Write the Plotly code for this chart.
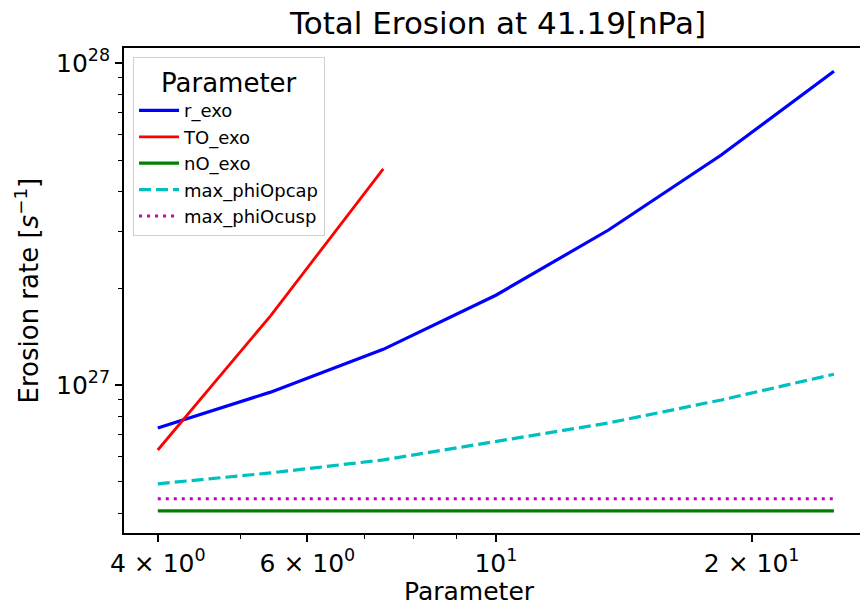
import plotly.graph_objects as go

# Data
x_vals = [4.0, 5.43, 7.37, 10.0, 13.57, 18.42, 25.0]
r_exo = [7.35e26, 9.5e26, 1.29e27, 1.9e27, 3.03e27, 5.18e27, 9.44e27]
TO_exo_x = [4.0, 5.43, 7.37]
TO_exo = [6.28e26, 1.64e27, 4.69e27]
nO_exo = [4.06e26] * 7
max_phiOpcap = [4.93e26, 5.33e26, 5.85e26, 6.66e26, 7.62e26, 8.98e26, 1.08e27]
max_phiOcusp = [4.43e26] * 7

x_tickvals = [4, 6, 10, 20]
x_ticktext = ["4 × 10<sup>0</sup>", "6 × 10<sup>0</sup>", "10<sup>1</sup>", "2 × 10<sup>1</sup>"]
x_minor = [5, 7, 8, 9]
y_tickvals = [1e27, 1e28]
y_ticktext = ["10<sup>27</sup>", "10<sup>28</sup>"]
y_minor = [4e26, 5e26, 6e26, 7e26, 8e26, 9e26, 2e27, 3e27, 4e27, 5e27, 6e27, 7e27, 8e27, 9e27]

FONT = "DejaVu Sans"

fig = go.Figure()
fig.add_trace(go.Scatter(x=x_vals, y=r_exo, mode="lines", name="r_exo",
                         line=dict(color="#0000ff", width=3.2)))
fig.add_trace(go.Scatter(x=TO_exo_x, y=TO_exo, mode="lines", name="TO_exo",
                         line=dict(color="#ff0000", width=2.8)))
fig.add_trace(go.Scatter(x=x_vals, y=nO_exo, mode="lines", name="nO_exo",
                         line=dict(color="#008000", width=3.2)))
fig.add_trace(go.Scatter(x=x_vals, y=max_phiOpcap, mode="lines", name="max_phiOpcap",
                         line=dict(color="#00bfbf", width=3.2, dash="12px,5px")))
fig.add_trace(go.Scatter(x=x_vals, y=max_phiOcusp, mode="lines", name="max_phiOcusp",
                         line=dict(color="#bf00bf", width=3.2, dash="3px,5px")))

fig.update_layout(
    width=860, height=607,
    margin=dict(l=124, r=0, t=48, b=74),
    paper_bgcolor="white", plot_bgcolor="white",
    font=dict(family=FONT, color="black"),
    showlegend=True,
    legend=dict(
        title=dict(text="Parameter", font=dict(size=26, family=FONT), side="top center"),
        font=dict(size=18, family=FONT),
        x=0.012, y=0.981, xanchor="left", yanchor="top",
        bordercolor="#d0d0d0", borderwidth=1.2, bgcolor="rgba(255,255,255,0.8)",
        itemwidth=40,
    ),
    annotations=[
        dict(text="Total Erosion at 41.19[nPa]", xref="paper", yref="paper",
             x=0.507, y=1.0, yshift=25, xanchor="center", yanchor="middle",
             showarrow=False, font=dict(size=31, family=FONT)),
        dict(text="Parameter", xref="paper", yref="paper",
             x=(469 - 124) / 736, y=0, yshift=-58, xanchor="center", yanchor="middle",
             showarrow=False, font=dict(size=25, family=FONT)),
        dict(text="Erosion rate [<i>s</i><sup>−1</sup>]", xref="paper", yref="paper",
             x=0, y=0.5, xshift=-97, xanchor="center", yanchor="middle", textangle=-90,
             showarrow=False, font=dict(size=26, family=FONT)),
    ],
)

fig.update_xaxes(
    type="log", range=[0.5623, 1.4286],
    tickmode="array", tickvals=x_tickvals, ticktext=x_ticktext,
    tickfont=dict(size=25, family=FONT),
    ticks="outside", ticklen=7, tickwidth=1.5, tickcolor="black",
    showline=True, linecolor="black", linewidth=1.8, mirror=True,
    showgrid=False, zeroline=False,
    minor=dict(tickmode="array", tickvals=x_minor, ticks="outside", ticklen=4,
               tickwidth=1.2, tickcolor="black", showgrid=False),
)
fig.update_yaxes(
    type="log", range=[26.54, 28.047],
    tickmode="array", tickvals=y_tickvals, ticktext=y_ticktext,
    tickfont=dict(size=25, family=FONT),
    ticks="outside", ticklen=7, tickwidth=1.5, tickcolor="black",
    showline=True, linecolor="black", linewidth=1.8, mirror=False,
    showgrid=False, zeroline=False,
    minor=dict(tickmode="array", tickvals=y_minor, ticks="outside", ticklen=4,
               tickwidth=1.2, tickcolor="black", showgrid=False),
)

fig.write_html("out.html")
